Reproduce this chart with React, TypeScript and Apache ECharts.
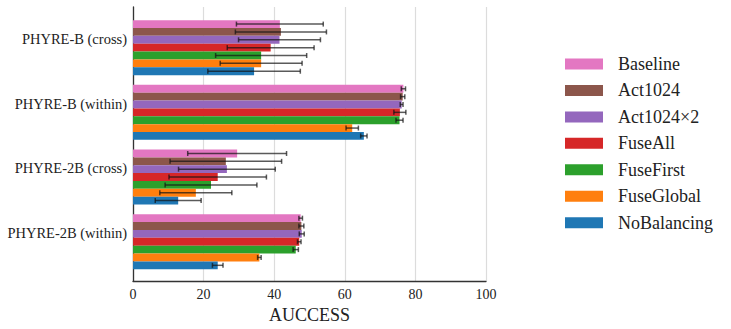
import React, { useEffect, useRef } from "react";
import * as echarts from "echarts";

const categories = ["PHYRE-B (cross)", "PHYRE-B (within)", "PHYRE-2B (cross)", "PHYRE-2B (within)"];
const methods = ["Baseline", "Act1024", "Act1024×2", "FuseAll", "FuseFirst", "FuseGlobal", "NoBalancing"];
const colors = ["#e377c2", "#8c564b", "#9467bd", "#d62728", "#2ca02c", "#ff7f0e", "#1f77b4"];

const baselineMean = [41.6, 76.6, 29.5, 47.5];
const act1024Mean = [41.9, 76.4, 26.3, 47.7];
const act1024x2Mean = [41.5, 76.1, 26.6, 47.8];
const fuseAllMean = [39.0, 75.6, 24.0, 47.1];
const fuseFirstMean = [36.3, 75.5, 22.1, 46.1];
const fuseGlobalMean = [36.3, 62.1, 17.8, 35.8];
const noBalancingMean = [34.3, 65.4, 12.8, 24.0];

const baselineErr = [12.3, 0.6, 14.0, 0.5];
const act1024Err = [12.9, 0.6, 15.8, 0.7];
const act1024x2Err = [11.6, 0.4, 13.7, 0.7];
const fuseAllErr = [12.3, 1.7, 13.8, 0.5];
const fuseFirstErr = [12.9, 1.0, 13.0, 0.75];
const fuseGlobalErr = [11.6, 1.75, 10.2, 0.5];
const noBalancingErr = [13.1, 0.9, 6.5, 1.5];

const xTicks = [0, 20, 40, 60, 80, 100];

const means = [baselineMean, act1024Mean, act1024x2Mean, fuseAllMean, fuseFirstMean, fuseGlobalMean, noBalancingMean];
const errs = [baselineErr, act1024Err, act1024x2Err, fuseAllErr, fuseFirstErr, fuseGlobalErr, noBalancingErr];

const FONT = "Liberation Serif, DejaVu Serif, serif";
const CAT_GAP = 0.15;

export default function App() {
  const ref = useRef<HTMLDivElement>(null);
  useEffect(() => {
    if (!ref.current) return;
    const chart = echarts.init(ref.current, null, { renderer: "svg" });
    const errData: number[][] = [];
    means.forEach((m, s) => m.forEach((v, c) => errData.push([c, v, errs[s][c], s])));
    const nSeries = methods.length;
    const option: any = {
      animation: false,
      textStyle: { fontFamily: FONT },
      grid: [
        { left: 133, top: 7, width: 353, height: 274, containLabel: false },
        { left: 133, top: 15.3, width: 353, height: 258.8, containLabel: false },
      ],
      xAxis: [
        {
          gridIndex: 0,
          type: "value",
          min: xTicks[0],
          max: xTicks[xTicks.length - 1],
          interval: 20,
          axisLine: { show: true, onZero: false, lineStyle: { color: "#333", width: 1.3 } },
          axisTick: { show: false },
          splitLine: { show: true, lineStyle: { color: "#dcdcdc", width: 1.2 } },
          axisLabel: { fontFamily: FONT, fontSize: 14, color: "#222", margin: 6 },
          name: "AUCCESS",
          nameLocation: "middle",
          nameGap: 15,
          nameTextStyle: { fontFamily: FONT, fontSize: 18, color: "#222" },
        },
        { gridIndex: 1, type: "value", min: 0, max: 100, show: false },
      ],
      yAxis: [
        {
          gridIndex: 0,
          type: "value",
          inverse: true,
          min: -0.496,
          max: 3.739,
          axisLine: { show: true, onZero: false, lineStyle: { color: "#333", width: 1.3 } },
          axisTick: { show: false },
          splitLine: { show: false },
          axisLabel: {
            customValues: [0, 1, 2, 3],
            formatter: (v: number) => categories[Math.round(v)] ?? "",
            fontFamily: FONT,
            fontSize: 14.5,
            color: "#222",
            margin: 6,
          },
        },
        { gridIndex: 1, type: "category", inverse: true, data: categories, show: false },
      ],
      legend: {
        orient: "vertical",
        left: 565,
        top: 55,
        padding: 0,
        itemWidth: 38,
        itemHeight: 11,
        itemGap: 8.45,
        icon: "rect",
        data: methods,
        textStyle: { fontFamily: FONT, fontSize: 18, color: "#222", lineHeight: 18, padding: [0, 0, 0, 10] },
      },
      series: [
        ...methods.map((name, s) => ({
          name,
          type: "bar",
          xAxisIndex: 1,
          yAxisIndex: 1,
          data: means[s],
          barGap: "0%",
          barCategoryGap: CAT_GAP * 100 + "%",
          itemStyle: { color: colors[s] },
        })),
        {
          type: "custom",
          xAxisIndex: 1,
          yAxisIndex: 1,
          z: 10,
          silent: true,
          encode: { x: 1, y: 0 },
          data: errData,
          renderItem: (params: any, api: any) => {
            const cat = api.value(0);
            const v = api.value(1);
            const e = api.value(2);
            const s = api.value(3);
            const band = api.size([0, 1])[1];
            const bw = (band * (1 - CAT_GAP)) / nSeries;
            const off = (s - (nSeries - 1) / 2) * bw;
            const p1 = api.coord([v - e, cat]);
            const p2 = api.coord([v + e, cat]);
            const y = p1[1] + off;
            const cap = 2.5;
            const st = { stroke: "rgba(20,20,20,0.7)", lineWidth: 1.5 };
            return {
              type: "group",
              children: [
                { type: "line", shape: { x1: p1[0], y1: y, x2: p2[0], y2: y }, style: st },
                { type: "line", shape: { x1: p1[0], y1: y - cap, x2: p1[0], y2: y + cap }, style: st },
                { type: "line", shape: { x1: p2[0], y1: y - cap, x2: p2[0], y2: y + cap }, style: st },
              ],
            };
          },
        },
      ],
    };
    chart.setOption(option);
    return () => chart.dispose();
  }, []);
  return (
    <div
      ref={ref}
      style={{ position: "fixed", left: 0, top: 0, width: 731, height: 329, background: "#fff" }}
    />
  );
}
